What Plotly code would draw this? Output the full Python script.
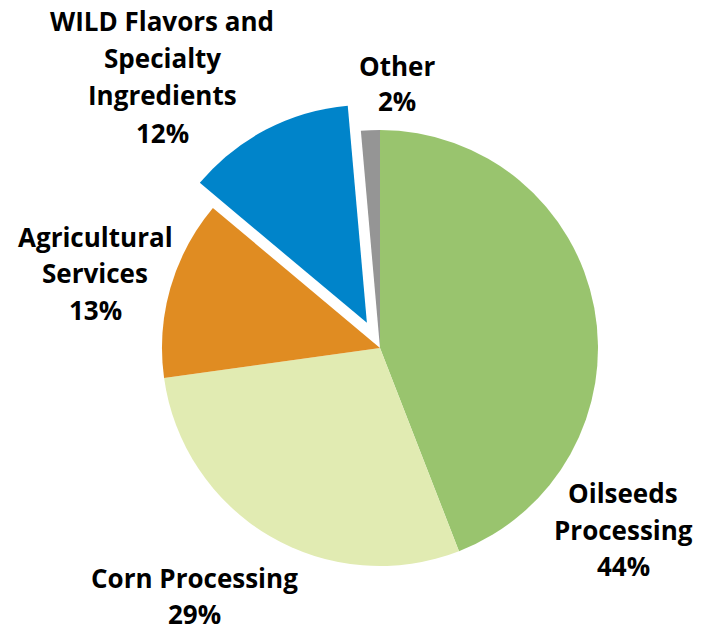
import plotly.graph_objects as go

labels = ["Oilseeds Processing", "Corn Processing", "Agricultural Services",
          "WILD Flavors and Specialty Ingredients", "Other"]
values = [44.1, 28.7, 13.3, 12.5, 1.4]          # slice sizes as drawn
pct_labels = ["44%", "29%", "13%", "12%", "2%"]  # percentages as printed
colors = ["#99C46E", "#E1EBB2", "#E08C22", "#0084CA", "#959595"]
pulls = [0, 0, 0, 0.13, 0]

# label text lines and their (x, y) pixel anchors in the window (center of each line)
label_lines = [
    (["Oilseeds", "Processing"], 623, [493, 530, 566]),
    (["Corn Processing"], 195, [578, 614]),
    (["Agricultural", "Services"], 95, [237, 273, 310]),
    (["WILD Flavors and", "Specialty", "Ingredients"], 162, [21, 58, 95, 133]),
    (["Other"], 397, [66, 101]),
]

OFF = 8  # page body margin
W, H = 702, 623
cx, cy, r = 380 - OFF, 348 - OFF, 218
half = r * (1 + max(pulls))

fig = go.Figure(go.Pie(
    labels=labels, values=values, sort=False, direction="clockwise",
    rotation=0, pull=pulls, textinfo="none", hoverinfo="label",
    marker=dict(colors=colors, line=dict(width=0)),
    domain=dict(x=[(cx - half) / W, (cx + half) / W],
                y=[(H - cy - half) / H, (H - cy + half) / H]),
    showlegend=False,
))

annotations = []
for (lines, x, ys), pct in zip(label_lines, pct_labels):
    for t, y in zip(lines + [pct], ys):
        annotations.append(dict(
            text="<b>" + t + "</b>", x=(x - OFF) / W, y=1 - (y - OFF) / H,
            xref="paper", yref="paper",
            showarrow=False, xanchor="center", yanchor="middle",
            font=dict(family="Open Sans", size=26, color="#000000"),
        ))

fig.update_layout(
    width=W, height=H, margin=dict(l=0, r=0, t=0, b=0),
    paper_bgcolor="white", plot_bgcolor="white",
    annotations=annotations,
)
fig.write_html("out.html")
